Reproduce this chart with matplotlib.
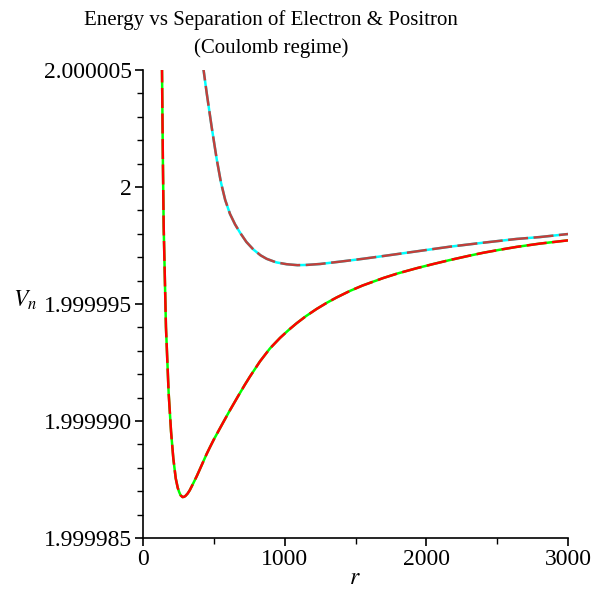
import matplotlib
matplotlib.use("Agg")
import matplotlib.pyplot as plt
from matplotlib.ticker import FixedLocator, MultipleLocator

plt.rcParams["font.family"] = ["Liberation Serif", "DejaVu Serif"]
plt.rcParams["mathtext.fontset"] = "stix"

# lower curve (red / green)
r_low = [130, 134, 140, 146, 162, 181, 198, 214, 231, 245, 255, 265, 279, 290,
         300, 315, 330, 355, 380, 400, 425, 450, 475, 500, 556, 610, 671, 720,
         755, 826, 896, 967, 1030, 1085, 1150, 1226, 1300, 1367, 1461, 1550,
         1696, 1800, 1932, 2050, 2167, 2300, 2402, 2520, 2637, 2800, 3000]
v_low = [2.0000075, 2.00000509, 2.0000013, 1.99999829, 1.99999402, 1.99999120,
         1.99998955, 1.99998840, 1.99998755, 1.99998715, 1.99998697, 1.99998683,
         1.99998675, 1.99998676, 1.99998680, 1.99998690, 1.99998704, 1.99998734,
         1.99998765, 1.99998792, 1.99998826, 1.99998860, 1.99998891, 1.99998921,
         1.99998983, 1.99999042, 1.99999106, 1.99999156, 1.99999190, 1.99999255,
         1.99999310, 1.99999355, 1.99999390, 1.99999418, 1.99999448, 1.99999479,
         1.99999506, 1.99999528, 1.99999556, 1.99999579, 1.99999611, 1.99999631,
         1.99999653, 1.99999671, 1.99999688, 1.99999706, 1.99999719, 1.99999732,
         1.99999744, 1.99999758, 1.99999772]

# upper curve (brown / cyan)
r_up = [420, 426, 450, 485, 520, 550, 580, 614, 650, 685, 730, 779, 830, 873,
        940, 1014, 1090, 1156, 1250, 1391, 1550, 1696, 1932, 2167, 2402, 2637,
        2800, 3000]
v_up = [2.0000054, 2.00000507, 2.00000400, 2.00000255, 2.00000120, 2.00000020,
        1.99999945, 1.99999885, 1.99999840, 1.99999805, 1.99999765, 1.99999733,
        1.99999708, 1.99999693, 1.99999678, 1.99999670, 1.99999666, 1.99999667,
        1.99999671, 1.99999681, 1.99999693, 1.99999705, 1.99999725, 1.99999745,
        1.99999762, 1.99999778, 1.99999786, 1.99999799]

y_ticks = [1.999985, 1.999990, 1.999995, 2.0, 2.000005]
y_labels = ["1.999985", "1.999990", "1.999995", "2", "2.000005"]
x_ticks = [0, 1000, 2000, 3000]

fig = plt.figure(figsize=(5.92, 5.92), dpi=100)
ax = fig.add_axes([143 / 592, 54 / 592, 425 / 592, 468 / 592])

lw = 1.8
ax.plot(r_low, v_low, color="#00ff00", lw=lw, solid_capstyle="butt")
ax.plot(r_low, v_low, color="#ff0000", lw=lw, dashes=(8, 2.2))
ax.plot(r_up, v_up, color="#00ffff", lw=lw, solid_capstyle="butt")
ax.plot(r_up, v_up, color="#c0403c", lw=lw, dashes=(8, 2.2))

ax.set_xlim(0, 3000)
ax.set_ylim(1.999985, 2.000005)
ax.yaxis.set_major_locator(FixedLocator(y_ticks))
ax.set_yticklabels(y_labels)
ax.yaxis.set_minor_locator(MultipleLocator(1e-6))
ax.xaxis.set_major_locator(FixedLocator(x_ticks))
ax.xaxis.set_minor_locator(MultipleLocator(500))

for s in ["top", "right"]:
    ax.spines[s].set_visible(False)
for s in ["left", "bottom"]:
    ax.spines[s].set_linewidth(1.2)

ax.tick_params(which="major", length=6, width=1.2, labelsize=17, pad=2)
ax.tick_params(which="minor", length=4, width=1.0)

fig.text(25 / 592, 1 - 300 / 592, r"$V_n$", fontsize=17, ha="center", va="center")
fig.text(355 / 592, 1 - 578 / 592, r"$r$", fontsize=17, ha="center", va="center")
fig.text(271 / 592, 1 - 34 / 592,
         "Energy vs Separation of Electron & Positron\n(Coulomb regime)",
         fontsize=15, ha="center", va="center", linespacing=1.5)

fig.savefig("out.png", dpi=100)
